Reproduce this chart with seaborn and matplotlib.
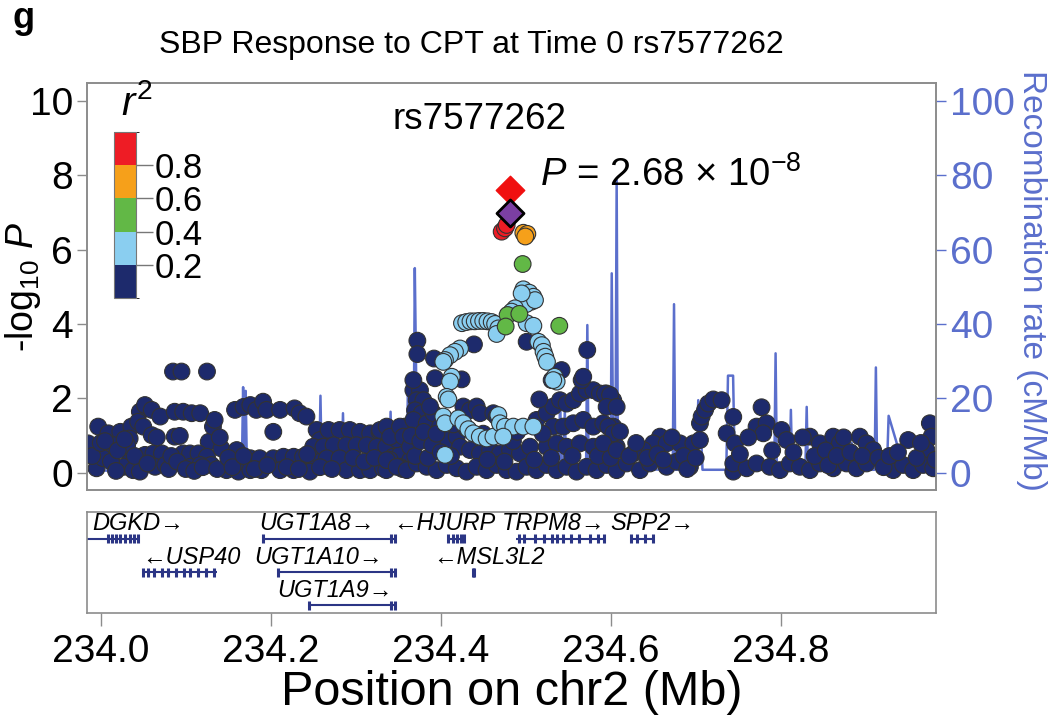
import numpy as np
import pandas as pd
import seaborn as sns
import matplotlib.pyplot as plt
from matplotlib.colors import ListedColormap, BoundaryNorm
from matplotlib.cm import ScalarMappable

# ---- data ----
# r2 bins and colours
r2_bins = [0.0, 0.2, 0.4, 0.6, 0.8, 1.0]
r2_ticks = [0.2, 0.4, 0.6, 0.8]
r2_colors = ['#1d2a6c', '#8acef0', '#62b846', '#f6a01a', '#ee1c25']

# SNPs as (position Mb, -log10 P), grouped by r2 bin
navy_snps = [
    (233.995, 0.12), (233.985, 0.79), (233.997, 1.24), (234.009, 1.06), (234.023, 1.10),
    (234.003, 0.39), (234.015, 0.74), (234.036, 1.24), (234.046, 1.64), (234.052, 1.82),
    (234.060, 1.69), (234.070, 1.51), (234.044, 1.37), (234.050, 1.24), (234.034, 0.92),
    (234.031, 0.74), (234.060, 1.01), (234.052, 0.48), (234.062, 0.52), (234.072, 0.52),
    (234.034, 0.30), (234.027, 0.16), (234.038, 0.07), (234.046, 0.03), (234.064, 0.16),
    (234.076, 0.21), (234.085, 2.72), (234.095, 2.72), (234.125, 2.72), (234.087, 1.64),
    (234.097, 1.64), (234.107, 1.60), (234.117, 1.60), (234.087, 0.97), (234.093, 0.99),
    (234.127, 0.83), (234.132, 1.24), (234.134, 1.42), (234.097, 0.52), (234.105, 0.52),
    (234.115, 0.52), (234.125, 0.43), (234.105, 0.16), (234.117, 0.21), (234.130, 0.21),
    (234.142, 0.65), (234.160, 0.61), (234.148, 0.07), (234.162, 0.03), (234.158, 1.69),
    (234.168, 1.77), (234.176, 1.82), (234.183, 1.69), (234.191, 1.91), (234.195, 1.69),
    (234.211, 1.69), (234.228, 1.73), (234.234, 1.60), (234.242, 1.51), (234.203, 1.10),
    (234.176, 0.39), (234.187, 0.39), (234.203, 0.39), (234.215, 0.43), (234.227, 0.43),
    (234.238, 0.43), (234.250, 0.39), (234.254, 1.15), (234.258, 0.88), (234.268, 1.15),
    (234.281, 1.15), (234.293, 1.15), (234.305, 1.10), (234.317, 1.06), (234.328, 1.10),
    (234.250, 0.70), (234.262, 0.70), (234.274, 0.74), (234.289, 0.74), (234.301, 0.74),
    (234.313, 0.74), (234.325, 0.70), (234.336, 0.70), (234.176, 0.07), (234.189, 0.07),
    (234.211, 0.07), (234.227, 0.07), (234.246, 0.03), (234.266, 0.39), (234.281, 0.39),
    (234.289, 0.07), (234.305, 0.07), (234.317, 0.07), (234.332, 0.12), (234.344, 0.43),
    (234.352, 0.48), (234.358, 1.24), (234.360, 0.88), (234.364, 0.34), (234.336, 0.07),
    (234.352, 0.16), (233.990, 0.45), (234.000, 0.80), (234.005, 0.85), (234.012, 0.30),
    (234.018, 0.05), (234.020, 0.60), (234.028, 0.90), (234.040, 0.45), (234.055, 0.25),
    (234.066, 0.95), (234.080, 0.10), (234.083, 0.45), (234.090, 0.30), (234.100, 0.10),
    (234.110, 0.05), (234.120, 0.15), (234.137, 0.10), (234.140, 0.95), (234.150, 0.40),
    (234.155, 0.15), (234.168, 0.45), (234.181, 0.10), (234.196, 0.20), (234.219, 0.15),
    (234.233, 0.10), (234.243, 0.50), (234.258, 0.15), (234.272, 0.10), (234.297, 0.40),
    (234.310, 0.30), (234.322, 0.40), (234.340, 0.35), (234.348, 0.90), (234.355, 0.10),
    (234.3286, 1.15), (234.3364, 1.24), (234.3404, 0.97), (234.3521, 1.24), (234.3560, 0.97),
    (234.3639, 0.70), (234.3678, 2.22), (234.3756, 2.22), (234.3717, 1.95), (234.3796, 1.95),
    (234.3698, 1.68), (234.3776, 1.60), (234.3678, 1.42), (234.3835, 1.33), (234.3913, 1.60),
    (234.3874, 1.78), (234.3992, 1.24), (234.3874, 0.97), (234.4070, 0.88), (234.4188, 0.97),
    (234.4266, 1.78), (234.4344, 1.68), (234.4423, 1.78), (234.4462, 1.60), (234.4227, 0.70),
    (234.4344, 0.61), (234.4462, 0.52), (234.4619, 1.60), (234.4658, 1.51), (234.4580, 0.61),
    (234.4697, 0.52), (234.4815, 0.61), (234.4932, 0.52), (234.5050, 0.70), (234.5128, 1.42),
    (234.5246, 1.60), (234.5324, 1.78), (234.5403, 1.95), (234.5481, 1.86), (234.5560, 1.95),
    (234.5638, 2.13), (234.5716, 2.22), (234.5795, 2.22), (234.5873, 2.13), (234.5952, 2.13),
    (234.6030, 1.95), (234.5324, 1.24), (234.5442, 1.24), (234.5560, 1.33), (234.5677, 1.42),
    (234.5795, 1.24), (234.5912, 1.33), (234.6030, 1.24), (234.5246, 0.70), (234.5364, 0.79),
    (234.5481, 0.70), (234.5638, 0.79), (234.5795, 0.70), (234.5952, 0.79), (234.6070, 0.70),
    (234.3364, 0.34), (234.3482, 0.16), (234.3600, 0.07), (234.3717, 0.25), (234.3835, 0.16),
    (234.3952, 0.07), (234.4070, 0.21), (234.4188, 0.12), (234.4305, 0.03), (234.4423, 0.16),
    (234.4540, 0.07), (234.4658, 0.21), (234.4776, 0.07), (234.4893, 0.03), (234.5011, 0.16),
    (234.5128, 0.07), (234.5246, 0.21), (234.5364, 0.07), (234.5481, 0.16), (234.5599, 0.03),
    (234.5716, 0.16), (234.5834, 0.07), (234.5952, 0.21), (234.6070, 0.07),
    (234.3725, 3.55), (234.3725, 3.19), (234.3921, 3.07), (234.3933, 2.54), (234.4246, 2.51),
    (234.4391, 3.45), (234.5011, 3.52), (234.5422, 2.76), (234.5305, 2.49), (234.5658, 2.49),
    (234.5724, 3.30), (234.5160, 1.97), (234.5677, 2.58), (234.3678, 2.49),
    (234.3650, 1.00), (234.3700, 0.45), (234.3760, 0.85), (234.3800, 1.10), (234.3850, 0.40),
    (234.3900, 0.75), (234.3950, 1.05), (234.4000, 0.55), (234.4120, 0.45), (234.4150, 1.30),
    (234.4300, 1.20), (234.4500, 1.05), (234.4550, 0.35), (234.4750, 0.30), (234.4850, 0.85),
    (234.4900, 1.10), (234.5100, 0.35), (234.5200, 1.05), (234.5300, 0.40), (234.5550, 0.45),
    (234.5850, 0.45), (234.6000, 0.40),
    (234.5933, 2.13), (234.5992, 2.09), (234.5952, 1.77), (234.6070, 1.77), (234.5972, 1.24),
    (234.6031, 1.06), (234.6109, 1.11), (234.5913, 0.79), (234.6070, 0.61),
    (234.7050, 1.33), (234.7070, 1.51), (234.7110, 1.69), (234.7148, 1.86), (234.7207, 1.97),
    (234.7305, 1.95), (234.7775, 1.76), (234.7442, 1.50), (234.7364, 1.06), (234.7462, 0.79),
    (234.7442, 0.03), (234.7716, 1.24), (234.7834, 1.33), (234.7795, 1.06), (234.8010, 1.15),
    (234.8069, 0.88), (234.6580, 0.97), (234.6501, 0.79), (234.6384, 0.61), (234.6266, 0.52),
    (234.6658, 0.79), (234.6815, 0.79), (234.6972, 0.79), (234.7050, 0.88), (234.8344, 0.97),
    (234.8461, 0.79), (234.8618, 0.97), (234.8696, 0.79), (234.8931, 0.97), (234.9010, 0.79),
    (234.9088, 0.61), (234.9500, 0.88), (234.9755, 1.33), (234.9774, 0.97), (234.9716, 0.61),
    (234.6188, 0.25), (234.6344, 0.07), (234.6462, 0.25), (234.6658, 0.16), (234.6776, 0.30),
    (234.6932, 0.16), (234.7442, 0.25), (234.7599, 0.12), (234.7716, 0.25), (234.7873, 0.16),
    (234.7991, 0.07), (234.8108, 0.25), (234.8226, 0.16), (234.8344, 0.07), (234.8461, 0.25),
    (234.8618, 0.12), (234.8775, 0.25), (234.8892, 0.12), (234.9010, 0.25), (234.9324, 0.07),
    (234.9441, 0.21), (234.9559, 0.07), (234.9676, 0.21), (234.9794, 0.12),
    (234.6220, 0.45), (234.6300, 0.80), (234.6430, 0.40), (234.6550, 0.50), (234.6620, 0.35),
    (234.6720, 0.95), (234.6860, 0.45), (234.6900, 0.10), (234.7000, 0.40), (234.7520, 0.50),
    (234.7620, 0.95), (234.7900, 0.60), (234.8150, 0.55), (234.8260, 0.95), (234.8400, 0.45),
    (234.8530, 0.60), (234.8560, 0.20), (234.8660, 0.45), (234.8740, 0.95), (234.8820, 0.55),
    (234.8960, 0.45), (234.9150, 0.40), (234.9210, 0.15), (234.9280, 0.45), (234.9380, 0.55),
    (234.9600, 0.40), (234.9650, 0.80), (234.9820, 0.35),
]
lightblue_snps = [
    (234.425, 4.02), (234.430, 4.05), (234.435, 4.07), (234.440, 4.07), (234.445, 4.08),
    (234.450, 4.08), (234.455, 4.07), (234.460, 4.05), (234.464, 4.00),
    (234.4972, 4.93), (234.5042, 4.84), (234.5090, 4.73), (234.5070, 4.60), (234.5003, 4.53),
    (234.5109, 4.64), (234.4952, 4.82), (234.4874, 4.42), (234.4834, 4.33),
    (234.4678, 3.88), (234.4658, 3.73),
    (234.5011, 4.02), (234.5090, 3.95), (234.5149, 3.52), (234.5190, 3.43), (234.5210, 3.25),
    (234.5230, 3.12), (234.5250, 2.98), (234.5340, 2.58), (234.5364, 2.45), (234.5324, 2.49),
    (234.4227, 3.34), (234.4168, 3.25), (234.4110, 3.16), (234.4050, 3.03), (234.4030, 2.98),
    (234.4130, 2.58), (234.4110, 2.45), (234.4070, 2.04), (234.4090, 1.97), (234.4030, 1.51),
    (234.4050, 1.33), (234.4207, 1.46), (234.4266, 1.33), (234.4325, 1.17), (234.4384, 1.06),
    (234.4460, 0.97), (234.4540, 0.92), (234.4620, 0.97), (234.4678, 1.55), (234.4697, 1.33),
    (234.4756, 1.24), (234.4854, 1.24), (234.4970, 1.24), (234.5090, 1.24), (234.4736, 0.97),
    (234.4050, 0.48),
]
green_snps = [(234.4964, 5.61), (234.4787, 4.24), (234.4925, 4.27), (234.4764, 3.93), (234.5395, 3.95)]
orange_snps = [(234.4972, 6.45), (234.5019, 6.42), (234.4995, 6.35)]
red_snps = [(234.4717, 6.48), (234.4756, 6.57), (234.4776, 6.66)]

lead_snp = (234.4815, 6.97)       # rs7577262, purple diamond
combined_snp = (234.4815, 7.60)   # red diamond, P = 2.68e-8

# recombination rate (cM/Mb)
recomb = [
    (233.983, 0.5), (234.000, 0.6), (234.050, 0.4), (234.100, 0.5), (234.150, 0.6),
    (234.151, 4.8), (234.160, 4.8), (234.161, 0.6), (234.166, 0.8), (234.1675, 23.0),
    (234.169, 2.0), (234.1705, 22.0), (234.172, 1.0), (234.200, 0.6), (234.257, 0.8),
    (234.2585, 20.7), (234.260, 1.0), (234.2835, 0.8), (234.285, 16.0), (234.2865, 0.8),
    (234.330, 0.6), (234.3395, 1.5), (234.341, 16.4), (234.3425, 2.0), (234.344, 13.4),
    (234.3455, 1.5), (234.360, 1.5), (234.3615, 24.0), (234.363, 3.0), (234.368, 3.0),
    (234.3695, 55.0), (234.371, 27.5), (234.3725, 2.0), (234.380, 1.0), (234.420, 0.8),
    (234.470, 0.6), (234.539, 1.0), (234.5405, 20.9), (234.542, 1.5), (234.5445, 1.0),
    (234.546, 17.0), (234.5475, 1.0), (234.571, 1.0), (234.5725, 39.7), (234.574, 1.0),
    (234.600, 1.0), (234.6012, 53.6), (234.603, 2.0), (234.6055, 2.0), (234.607, 78.7),
    (234.6085, 1.0), (234.673, 0.8), (234.6745, 45.3), (234.676, 0.8), (234.701, 0.8),
    (234.703, 19.5), (234.706, 12.0), (234.708, 0.8), (234.736, 0.8), (234.738, 26.1),
    (234.744, 26.1), (234.746, 0.8), (234.7925, 0.8), (234.794, 32.1), (234.7955, 0.8),
    (234.8105, 0.8), (234.812, 16.9), (234.8135, 0.8), (234.829, 0.8), (234.8306, 17.7),
    (234.832, 0.8), (234.8815, 0.8), (234.8835, 8.0), (234.8855, 0.8), (234.9105, 0.8),
    (234.912, 28.3), (234.9135, 0.8), (234.925, 1.0), (234.927, 15.3), (234.9365, 8.0),
    (234.938, 0.8), (234.983, 0.6),
]

# genes: name, start, end, row, label centre, strand
gene_names = ['DGKD', 'USP40', 'UGT1A8', 'UGT1A10', 'UGT1A9', 'HJURP', 'MSL3L2', 'TRPM8', 'SPP2']
gene_start = [233.950, 234.048, 234.191, 234.209, 234.245, 234.409, 234.438, 234.489, 234.624]
gene_end = [234.045, 234.137, 234.347, 234.347, 234.347, 234.427, 234.441, 234.592, 234.650]
gene_row = [0, 1, 0, 1, 2, 0, 1, 0, 0]
gene_label_x = [234.044, 234.106, 234.254, 234.256, 234.276, 234.404, 234.457, 234.533, 234.649]
gene_strand = ['+', '-', '+', '+', '+', '-', '-', '+', '+']
gene_exons = [
    [234.008, 234.013, 234.018, 234.023, 234.029, 234.034, 234.039, 234.044],
    [234.050, 234.056, 234.063, 234.0725, 234.079, 234.0886, 234.0983, 234.1048, 234.1144, 234.1241, 234.1338],
    [234.191, 234.341, 234.346],
    [234.209, 234.341, 234.346],
    [234.245, 234.341, 234.346],
    [234.409, 234.414, 234.419, 234.424, 234.427],
    [234.4385, 234.4395],
    [234.492, 234.4985, 234.511, 234.521, 234.5305, 234.537, 234.5435, 234.553, 234.563, 234.5755, 234.585, 234.5917],
    [234.624, 234.6305, 234.640, 234.6495],
]

x_ticks = [234.0, 234.2, 234.4, 234.6, 234.8]

# ---- style ----
sns.set_style('white')
plt.rcParams['font.family'] = ['Liberation Sans', 'DejaVu Sans']
plt.rcParams['mathtext.fontset'] = 'custom'
plt.rcParams['mathtext.rm'] = 'Liberation Sans'
plt.rcParams['mathtext.it'] = 'Liberation Sans:italic'
plt.rcParams['text.color'] = 'black'
plt.rcParams['axes.labelcolor'] = 'black'
plt.rcParams['xtick.color'] = 'black'
plt.rcParams['ytick.color'] = 'black'

frame = '#8c8c8c'
recomb_col = '#5b6fcc'
gene_col = '#2b3585'

groups = [('0.0-0.2', navy_snps), ('0.2-0.4', lightblue_snps), ('0.4-0.6', green_snps),
          ('0.6-0.8', orange_snps), ('0.8-1.0', red_snps)]
snps = pd.concat([pd.DataFrame(g, columns=['pos', 'logp']).assign(ld=name) for name, g in groups],
                 ignore_index=True)
palette = dict(zip([g[0] for g in groups], r2_colors))
rec = pd.DataFrame(recomb, columns=['pos', 'rate'])

xlim = (233.9835, 234.9827)
ylim = (-0.465, 10.476)

fig = plt.figure(figsize=(10.5, 7.26), dpi=100)
ax = fig.add_axes([0.0826, 0.325, 0.8088, 0.5607])
ax2 = ax.twinx()
ax.set_zorder(ax2.get_zorder() + 1)
ax.patch.set_visible(False)

# recombination line (behind the points)
sns.lineplot(data=rec, x='pos', y='rate', ax=ax2, sort=False, estimator=None,
             color=recomb_col, lw=1.8)

# association points
sns.scatterplot(data=snps, x='pos', y='logp', hue='ld', palette=palette, s=145,
                edgecolor='#333333', linewidth=0.8, legend=False, ax=ax)
sns.scatterplot(x=[combined_snp[0]], y=[combined_snp[1]], marker='D', s=210, color='#f01010',
                edgecolor='#f01010', linewidth=1, ax=ax, legend=False)
sns.scatterplot(x=[lead_snp[0]], y=[lead_snp[1]], marker='D', s=190, color='#7b3fa3',
                edgecolor='black', linewidth=2, ax=ax, legend=False)

ax.set_xlim(xlim)
ax.set_ylim(ylim)
ax.set_yticks(range(0, 11, 2))
ax.set_xlabel('')
ax.set_ylabel('')
ax.tick_params(axis='x', bottom=False, labelbottom=False)
ax.tick_params(axis='y', length=7, width=1, color=frame, labelsize=28, pad=3)

ax2.set_ylim(ylim[0] * 10, ylim[1] * 10)
ax2.set_yticks(range(0, 101, 20))
ax2.set_xlabel('')
ax2.set_ylabel('')
ax2.tick_params(axis='y', length=7, width=1, color=recomb_col, labelcolor=recomb_col,
                labelsize=28, pad=3)
for a in (ax, ax2):
    for sp in a.spines.values():
        sp.set_color(frame)
        sp.set_linewidth(1.2)

fig.text(0.022, 0.605, r'-log$_{10}$ $P$', rotation=90, fontsize=27, ha='center', va='center')
fig.text(0.982, 0.614, 'Recombination rate (cM/Mb)', rotation=270, color=recomb_col,
         fontsize=24, ha='center', va='center')

# annotations
fig.text(0.449, 0.938, 'SBP Response to CPT at Time 0 rs7577262', fontsize=23,
         ha='center', va='center')
fig.text(0.012, 0.975, 'g', fontsize=26, fontweight='bold', ha='left', va='center')
fig.text(0.457, 0.835, 'rs7577262', fontsize=26.5, ha='center', va='center')
fig.text(0.514, 0.759, r'$P$ = 2.68 × 10$^{-8}$', fontsize=27.5, ha='left', va='center')

# r2 legend bar
cax = fig.add_axes([0.1086, 0.5895, 0.021, 0.229])
cmap = ListedColormap(r2_colors)
norm = BoundaryNorm(r2_bins, cmap.N)
cb = fig.colorbar(ScalarMappable(norm=norm, cmap=cmap), cax=cax, ticks=r2_ticks)
cb.outline.set_edgecolor('#777777')
cb.ax.set_yticklabels([f'{t:.1f}' for t in r2_ticks])
cax.tick_params(length=12, width=1, color='#777777', labelsize=25, pad=1)
fig.text(0.130, 0.857, r'$r^2$', fontsize=29, ha='center', va='center')

# gene track
gax = fig.add_axes([0.0826, 0.1556, 0.8088, 0.139])
gax.set_xlim(xlim)
gax.set_ylim(1, 0)
for name, s, e, r, lx, strand, ex in zip(gene_names, gene_start, gene_end, gene_row,
                                         gene_label_x, gene_strand, gene_exons):
    ly = 0.265 + 0.33 * r
    gax.hlines(ly, s, e, color=gene_col, lw=1.5)
    gax.vlines(ex, ly - 0.045, ly + 0.045, color=gene_col, lw=2.2)
    label = name + '→' if strand == '+' else '←' + name
    gax.text(lx, ly - 0.15, label, ha='center', va='center', fontsize=17, style='italic')
gax.set_yticks([])
gax.set_xticks(x_ticks)
gax.set_xticklabels([f'{t:.1f}' for t in x_ticks])
gax.tick_params(axis='x', length=9, width=1, color=frame, labelsize=28, pad=6, bottom=True)
for sp in gax.spines.values():
    sp.set_color(frame)
    sp.set_linewidth(1.2)

fig.text(0.487, 0.046, 'Position on chr2 (Mb)', fontsize=35, ha='center', va='center')

fig.savefig('out.png', dpi=100)
